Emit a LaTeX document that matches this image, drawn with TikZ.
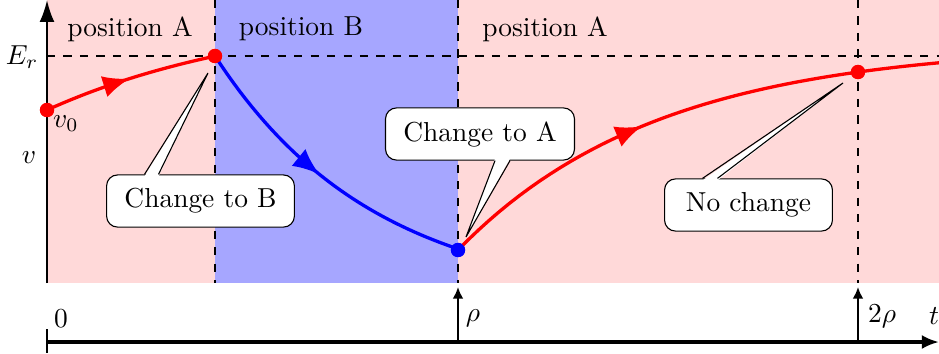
\documentclass[tikz,border=0pt]{standalone}
\usepackage{tikz}
\usetikzlibrary{arrows.meta,calc,decorations.markings}
\definecolor{posApink}{HTML}{FFD9D9}
\definecolor{posBblue}{HTML}{A6A6FF}

\begin{document}
\begin{tikzpicture}[x=0.0128cm, y=-0.0128cm,
  axis/.style={thick, -{Latex[length=2.8mm, width=1.9mm]}},
  tick/.style={thick, -{Latex[length=1.5mm, width=1.4mm]}},
  sep/.style={dashed, semithick},
  dotnode/.style={circle, fill=#1, inner sep=0pt, minimum size=5.2pt},
  flow/.style={very thick, postaction={decorate},
               decoration={markings, mark=at position 0.5 with {\arrow{Latex[length=3.4mm, width=2.8mm]}}}},
  callbox/.style={draw, fill=white, rounded corners=4pt, inner xsep=6.5pt, minimum height=19pt},
  callptr/.style={draw, line join=miter}
]
\useasboundingbox (0,0) rectangle (939,353);

% shaded positions
\fill[posApink] (47,0) rectangle (939,283);
\fill[posBblue] (215,0) rectangle (458,283);
\node (posA1) at (130,29) {position A};
\node (posB) at (301,29) {position B};
\node (posA2) at (545,29) {position A};

% switching instants and threshold
\draw[sep] (215,0) -- (215,283);
\draw[sep] (458,0) -- (458,283);
\draw[sep] (858,0) -- (858,283);
\draw[sep] (47,56) -- (939,56);

% value axis
\draw[axis] (47,283) -- (47,0);
\node (Er) at (22,57) {$E_r$};
\node (vlab) at (29,158) {$v$};

% trajectory
\node[dotnode=red] (v0) at (47,110) {};
\node[dotnode=red] (swB) at (215,56) {};
\node[dotnode=blue] (swA) at (458,250) {};
\node[dotnode=red] (stay) at (858,72) {};
\node (v0lab) at (66,124) {$v_0$};
\draw[flow, red] plot[domain=0:168, samples=40] ({47+\x},{7+103*exp(-\x/227)});
\draw[flow, blue] plot[domain=0:243, samples=40] ({215+\x},{303-247*exp(-\x/160)});
\draw[flow, red] plot[domain=0:400, samples=40] ({458+\x},{44.2+205.8*exp(-\x/200)});
\draw[very thick, red] plot[domain=400:481, samples=10] ({458+\x},{44.2+205.8*exp(-\x/200)});
\node[dotnode=red] at (v0) {};
\node[dotnode=red] at (swB) {};
\node[dotnode=blue] at (swA) {};
\node[dotnode=red] at (stay) {};

% callouts
\node[callbox] (cB) at (200.5,201) {Change to B};
\coordinate (tipB) at (208,73);
\fill[white] ($(cB.north)+(-56,2)$) -- (tipB) -- ($(cB.north)+(-42,2)$) -- cycle;
\draw[callptr] ($(cB.north)+(-56,0)$) -- (tipB) -- ($(cB.north)+(-42,0)$);

\node[callbox] (cA) at (480,134) {Change to A};
\coordinate (tipA) at (466,237);
\fill[white] ($(cA.south)+(15,-2)$) -- (tipA) -- ($(cA.south)+(30,-2)$) -- cycle;
\draw[callptr] ($(cA.south)+(15,0)$) -- (tipA) -- ($(cA.south)+(30,0)$);

\node[callbox, inner xsep=7.8pt] (cN) at (748.5,205) {No change};
\coordinate (tipN) at (843,83);
\fill[white] ($(cN.north)+(-46,2)$) -- (tipN) -- ($(cN.north)+(-31,2)$) -- cycle;
\draw[callptr] ($(cN.north)+(-46,0)$) -- (tipN) -- ($(cN.north)+(-31,0)$);

% time axis
\coordinate (t0) at (47,342);
\coordinate (tend) at (939,342);
\draw[axis, very thick, -{Latex[length=2.2mm, width=1.8mm]}] (t0) -- (tend);
\draw[thick] (47,329) -- (47,353);
\coordinate (rho1) at (458,342);
\coordinate (rho2) at (858,342);
\draw[tick] (rho1) -- (458,287);
\draw[tick] (rho2) -- (858,287);
\node (zlab) at (61,319) {$0$};
\node (r1lab) at (473,318) {$\rho$};
\node (r2lab) at (882,316) {$2\rho$};
\node (tlab) at (934,316) {$t$};
\end{tikzpicture}
\end{document}
